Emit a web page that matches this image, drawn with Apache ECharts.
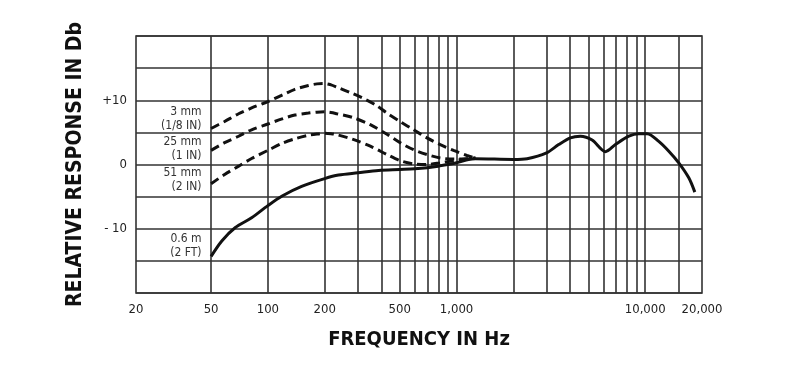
<!DOCTYPE html>
<html><head><meta charset="utf-8">
<script src="https://cdn.jsdelivr.net/npm/echarts@6/dist/echarts.min.js"></script>
<style>html,body{margin:0;padding:0;background:#fff}#c{width:790px;height:381px}</style>
</head><body><div id="c"></div>
<script>
// ---- data (frequency in Hz, response in dB) ----
const f3mm = [50,59,70,82,100,119,139,164,182,200,216,232,273,315,371,428,502,592,697,820,964,1135,1260];
const v3mm = [5.6,6.7,7.9,8.8,9.8,10.8,11.7,12.3,12.55,12.6,12.4,12.05,11.2,10.4,9.3,8.0,6.7,5.4,4.15,3.1,2.2,1.4,1.0];
const f25mm = [50,59,70,82,100,119,139,164,182,200,216,232,283,349,428,502,592,697,820,964,1135,1260];
const v25mm = [2.2,3.4,4.4,5.4,6.3,7.1,7.7,8.0,8.15,8.2,8.1,7.9,7.3,6.2,4.7,3.4,2.3,1.55,1.0,0.85,0.9,1.0];
const f51mm = [50,59,70,82,100,119,139,164,182,200,216,232,283,349,428,502,592,697,820,964,1135,1260];
const v51mm = [-3.0,-1.55,-0.26,0.93,2.2,3.3,4.0,4.55,4.75,4.85,4.8,4.65,3.9,2.85,1.55,0.6,0.1,0.0,0.26,0.6,0.9,1.0];
const f06m = [50,57,67,82,100,119,151,200,237,300,386,500,600,700,800,1000,1158,1258,2000,2366,3000,3478,4012,4532,5232,6156,6952,8186,9245,10240,11800,13340,15060,17020,18320];
const v06m = [-14.3,-11.9,-9.85,-8.3,-6.4,-4.9,-3.4,-2.2,-1.65,-1.3,-0.93,-0.78,-0.67,-0.5,-0.26,0.26,0.78,0.9,0.78,0.9,1.8,3.1,4.15,4.4,3.8,2.0,3.1,4.4,4.8,4.8,3.6,2.07,0.26,-2.07,-4.3];
const gridFreqs = [50,100,200,300,400,500,600,700,800,900,1000,2000,3000,4000,5000,6000,7000,8000,9000,10000,15000];
const xTickValues = [20,50,100,200,500,1000,10000,20000];
const xTickLabels = ['20','50','100','200','500','1,000','10,000','20,000'];
const yTickLabels = {10:'+10',0:'0','-10':'- 10'};
const curveLabels = ['3 mm\n(1/8 IN)','25 mm\n(1 IN)','51 mm\n(2 IN)','0.6 m\n(2 FT)'];

const FONT = "'DejaVu Sans Condensed','Liberation Sans',sans-serif";
const zip = (f,v)=>f.map((x,i)=>[x,v[i]]);

function curve(f, v, dashed, text, offY){
  return {
    type:'line', data: zip(f,v), smooth:0.3, symbol:'none', silent:true,
    lineStyle:{color:'#111', width:3, type: dashed ? [9,5] : 'solid', cap:'butt'},
    markPoint:{
      symbol:'circle', symbolSize:1, silent:true, itemStyle:{color:'rgba(0,0,0,0)'},
      label:{show:true, position:'left', distance:9, offset:[0,offY], align:'right',
        formatter:text, color:'#333', fontSize:12, lineHeight:14, fontFamily:FONT},
      data:[{coord:[f[0], v[0]]}]
    },
    z:5
  };
}

const chart = echarts.init(document.getElementById('c'), null, {renderer:'canvas'});
chart.setOption({
  animation:false,
  backgroundColor:'#fff',
  grid:{left:136, right:88, top:36, bottom:88, show:true, borderColor:'#333', borderWidth:1.6, backgroundColor:'transparent'},
  xAxis:{
    type:'log', logBase:10, min:20, max:20000,
    name:'FREQUENCY IN Hz', nameLocation:'middle', nameGap:37,
    nameTextStyle:{fontFamily:FONT, fontWeight:'bold', fontSize:20, color:'#111'},
    axisLine:{show:false}, axisTick:{show:false}, axisLabel:{show:false}, splitLine:{show:false}
  },
  yAxis:{
    type:'value', min:-20, max:20, interval:5,
    name:'RELATIVE RESPONSE IN Db', nameLocation:'middle', nameGap:50,
    nameTextStyle:{fontFamily:FONT, fontWeight:'bold', fontSize:21, color:'#111'},
    axisLine:{show:false}, axisTick:{show:false},
    axisLabel:{margin:9, fontFamily:FONT, fontSize:13, color:'#222',
      formatter:v=> (yTickLabels[v] !== undefined ? yTickLabels[v] : '')},
    splitLine:{show:true, lineStyle:{color:'#333', width:1.6}}
  },
  series:[
    {
      type:'line', data:[], silent:true,
      markLine:{
        symbol:'none', silent:true, animation:false,
        lineStyle:{color:'#333', width:1.6, type:'solid'},
        label:{show:false},
        data: gridFreqs.map(f=>({xAxis:f}))
      }
    },
    {
      type:'line', data:[], silent:true,
      markLine:{
        symbol:'none', silent:true, animation:false,
        lineStyle:{color:'rgba(0,0,0,0)', width:0},
        label:{show:true, position:'start', distance:10, fontFamily:FONT, fontSize:13, color:'#222',
          formatter:p=>xTickLabels[xTickValues.indexOf(p.value)]},
        data: xTickValues.map(f=>({xAxis:f}))
      }
    },
    curve(f3mm, v3mm, true, curveLabels[0], -10),
    curve(f25mm, v25mm, true, curveLabels[1], -1),
    curve(f51mm, v51mm, true, curveLabels[2], -4),
    curve(f06m, v06m, false, curveLabels[3], -11)
  ]
});
</script></body></html>
